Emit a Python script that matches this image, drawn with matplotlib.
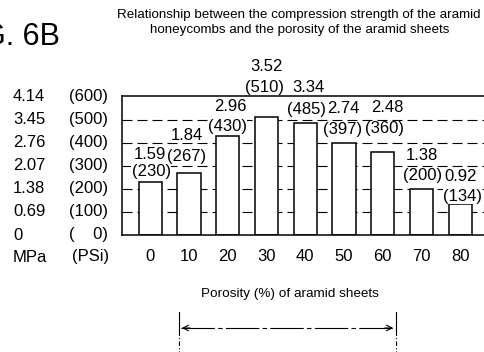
import numpy as np
import matplotlib
matplotlib.use("Agg")
import matplotlib.pyplot as plt
from matplotlib.lines import Line2D
from matplotlib.transforms import blended_transform_factory

# compression strength of the honeycombs vs porosity of the sheets
porosity = [0, 10, 20, 30, 40, 50, 60, 70, 80]
strength_psi = [230, 267, 430, 510, 485, 397, 360, 200, 134]
strength_mpa = ["1.59", "1.84", "2.96", "3.52", "3.34", "2.74", "2.48", "1.38", "0.92"]

grid_psi = [0, 100, 200, 300, 400, 500, 600]
grid_mpa = ["0", "0.69", "1.38", "2.07", "2.76", "3.45", "4.14"]

title_lines = ["Relationship between the compression strength of the aramid",
               "honeycombs and the porosity of the aramid sheets"]
xlabel = "Porosity (%) of aramid sheets"

# where the two value labels sit above each bar (pixels, from bar top)
mpa_off = [(0, 27), (-2, 38), (3, 29), (0, 51), (3, 36), (-1, 35), (5, 44), (0, 33), (0, 28)]
psi_off = [(1, 10), (-2, 17), (0, 9), (-2, 30), (1, 14), (-1, 14), (2, 23), (1, 13), (2, 8)]

sans = ['Liberation Sans', 'DejaVu Sans']

W, H = 484, 352
fig = plt.figure(figsize=(W / 100, H / 100), dpi=100)
fig.patch.set_facecolor('white')


def fx(x):
    return x / W


def fy(y):
    return 1 - y / H


ax = fig.add_axes([fx(121.5), fy(235), 0.7798, 0.3935])
ax.set_xlim(-0.74, 9.0)
ax.set_ylim(0, 600)

# dashed reference lines behind the bars
for g in grid_psi[1:-1]:
    ax.axhline(g, color='black', lw=0.8, dashes=(9, 4.5), zorder=1)

x = np.arange(len(porosity))
ax.bar(x, strength_psi, width=0.6, color='white', edgecolor='black', lw=1.1, zorder=2)

for i in range(len(porosity)):
    ax.annotate(strength_mpa[i], xy=(x[i], strength_psi[i]), xytext=mpa_off[i],
                textcoords='offset pixels', ha='center', va='center',
                fontsize=12, family=sans, zorder=4,
                bbox=dict(fc='white', ec='none', pad=0.1))
    ax.annotate("(%d)" % strength_psi[i], xy=(x[i], strength_psi[i]), xytext=psi_off[i],
                textcoords='offset pixels', ha='center', va='center',
                fontsize=12, family=sans, zorder=4,
                bbox=dict(fc='white', ec='none', pad=0.1))

for s in ['left', 'top', 'bottom']:
    ax.spines[s].set_linewidth(1.1)
ax.spines['right'].set_visible(False)

ax.set_yticks([])
ax.set_xticks(x)
ax.set_xticklabels([str(p) for p in porosity], fontsize=12, family=sans)
ax.tick_params(axis='x', length=0, pad=10)

# two-column strength scale on the left
tr = blended_transform_factory(fig.transFigure, ax.transData)
for g, m in zip(grid_psi, grid_mpa):
    ax.text(fx(13), g, m, transform=tr, ha='left', va='center', fontsize=12, family=sans)
    p = "(%d)" % g if g > 0 else "(    0)"
    ax.text(fx(108), g, p, transform=tr, ha='right', va='center', fontsize=12, family=sans)
fig.text(fx(13), fy(257), "MPa", ha='left', va='center', fontsize=12, family=sans)
fig.text(fx(109), fy(257), "(PSi)", ha='right', va='center', fontsize=12, family=sans)

fig.text(fx(60), fy(45), "FIG. 6B", ha='right', va='baseline', fontsize=22, family=sans)
fig.text(fx(299), fy(15), title_lines[0], ha='center', va='center', fontsize=9.6, family=sans)
fig.text(fx(300), fy(30), title_lines[1], ha='center', va='center', fontsize=9.6, family=sans)
fig.text(fx(290), fy(294), xlabel, ha='center', va='center', fontsize=9.7, family=sans)

# range bracket under the axis title
for xb in [179, 396]:
    fig.add_artist(Line2D([fx(xb), fx(xb)], [fy(312), fy(331)], transform=fig.transFigure,
                          color='black', lw=0.8))
    fig.add_artist(Line2D([fx(xb), fx(xb)], [fy(331), fy(352)], transform=fig.transFigure,
                          color='black', lw=0.8, dashes=(4, 2, 1, 2)))
fig.add_artist(Line2D([fx(181), fx(394)], [fy(328), fy(328)], transform=fig.transFigure,
                      color='black', lw=0.8, dashes=(30, 3, 4, 3)))
ax.annotate('', xy=(179, H - 328), xytext=(193, H - 328), xycoords='figure pixels',
            textcoords='figure pixels', arrowprops=dict(arrowstyle='->', lw=0.8, color='black'))
ax.annotate('', xy=(396, H - 328), xytext=(382, H - 328), xycoords='figure pixels',
            textcoords='figure pixels', arrowprops=dict(arrowstyle='->', lw=0.8, color='black'))

fig.savefig('out.png', dpi=100, facecolor='white')
